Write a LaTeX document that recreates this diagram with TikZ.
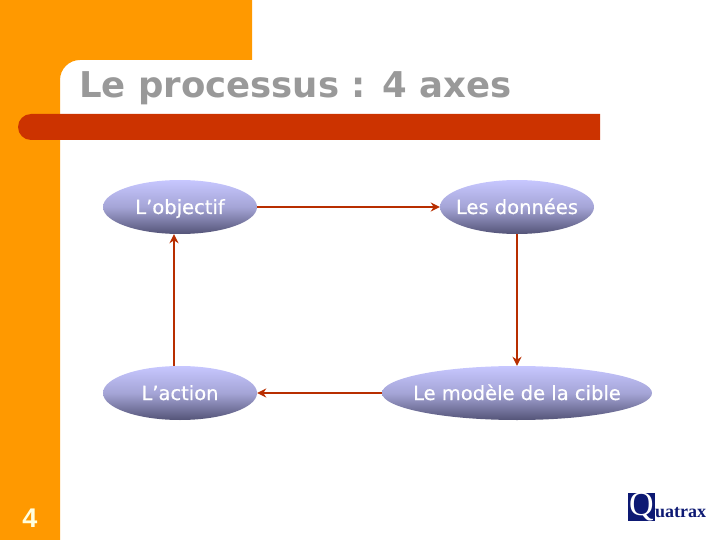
\documentclass[tikz,border=0pt]{standalone}
\usepackage{fontspec}
\setmainfont{DejaVu Sans}
\newfontfamily\logofont{Liberation Serif}
\newfontfamily\pagefont{Liberation Sans}
\newfontfamily\axefont[FakeBold=0.5]{DejaVu Sans}
\usepackage{tikz,xcolor}
\usetikzlibrary{calc,shapes.geometric,arrows.meta}
\definecolor{barorange}{rgb}{1.0, 0.6, 0.0}
\definecolor{barred}{rgb}{0.8, 0.2, 0.0}
\definecolor{titlegrey}{rgb}{0.6, 0.6, 0.6}
\definecolor{ovaltop}{rgb}{0.78, 0.78, 1.0}
\definecolor{ovalbot}{rgb}{0.33, 0.33, 0.47}
\definecolor{logoblue}{rgb}{0.05, 0.1, 0.45}
\definecolor{pagecream}{rgb}{1.0, 1.0, 0.88}
\tikzset{
	axe/.style={ellipse, top color=ovaltop, bottom color=ovalbot, middle color=ovaltop!70!ovalbot, text=white, font=\axefont\fontsize{19.5}{22}\selectfont, inner xsep=-10pt, inner ysep=-4pt, minimum height=54pt, text height=16pt, text depth=2pt},
	lien/.style={-{Stealth[length=9pt, width=9pt]}, barred!90!black, line width=2.4pt}
}

\begin{document}
\begin{tikzpicture}[x=1pt, y=-1pt]
	\useasboundingbox (0,0) rectangle (720,540);
	
	\fill[barorange] (0,0) -- (252,0) -- (252,60) -- (80,60) arc (270:180:20) -- (60,540) -- (0,540) -- cycle;
	\fill[barred] (600,114) -- (31,114) arc (270:90:13) -- (600,140) -- cycle;
	
	\node[anchor=base west, inner sep=0pt, titlegrey, font=\fontsize{35.5}{40}\selectfont\bfseries] (titre) at (79,98) {Le processus : 4 axes};
	\node[font=\pagefont\fontsize{27}{28}\selectfont\bfseries, text=pagecream, inner sep=0pt] (page) at (30,518) {4};
	
	\node[axe, minimum width=154pt] (objectif) at (180,207) {L’objectif};
	\node[axe, minimum width=154pt] (donnees) at (517,207) {Les données};
	\node[axe, minimum width=154pt] (action) at (180,393) {L’action};
	\node[axe, minimum width=270pt] (modele) at (517,393) {Le modèle de la cible};
	
	\draw[lien] (objectif) -- (donnees);
	\draw[lien] (donnees) -- (modele);
	\draw[lien] (modele) -- (action);
	\draw[lien] ([xshift=-6pt]action.north) -- ([xshift=-6pt]objectif.south);
	
	\node[fill=logoblue, text=white, font=\logofont\fontsize{34}{34}\selectfont, minimum width=27pt, minimum height=26pt, inner sep=0pt] (logoq) at (641.5,507) {Q};
	\node[anchor=base west, inner sep=0pt, text=logoblue, font=\logofont\bfseries\fontsize{18}{20}\selectfont] (logotext) at (655,517) {uatrax};
\end{tikzpicture}
\end{document}
